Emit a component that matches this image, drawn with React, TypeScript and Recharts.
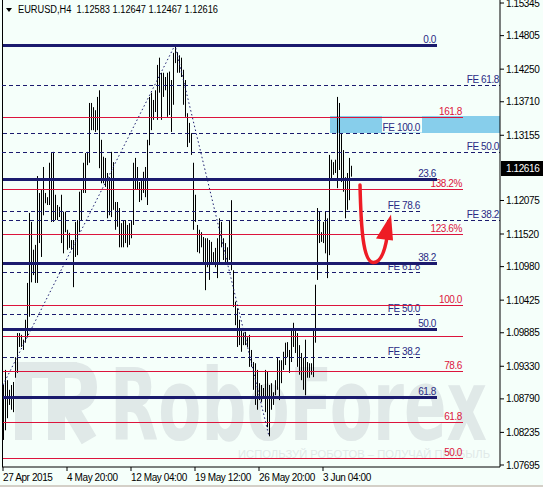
import React from "react";
import {
  Bar,
  ComposedChart,
  Line,
  ReferenceArea,
  ReferenceDot,
  ReferenceLine,
  XAxis,
  YAxis,
} from "recharts";

const BG = "#F5FFFA";
const NAVY = "#1b1b6e";
const NAVY_TEXT = "#2a2a84";
const CRIMSON = "#dc143c";
const MARK = "#e0e9e8";
const FONT = "'Liberation Sans', Arial, sans-serif";

// H4 bars, left to right (high / low)
const highs = [
  1.0902, 1.0927, 1.091, 1.0894, 1.0902, 1.0907, 1.0948, 1.0988, 1.0988, 1.0985,
  1.0977, 1.101, 1.1071, 1.1187, 1.1172, 1.1126, 1.1134, 1.1248, 1.122, 1.1225,
  1.1263, 1.122, 1.1213, 1.127, 1.1286, 1.1288, 1.1217, 1.12, 1.1197, 1.1217,
  1.1189, 1.1189, 1.1159, 1.1154, 1.1142, 1.1142, 1.1172, 1.1175, 1.1222, 1.1225,
  1.127, 1.1286, 1.1288, 1.1369, 1.1369, 1.1362, 1.1357, 1.1379, 1.139, 1.1308,
  1.128, 1.1278, 1.1253, 1.1246, 1.1288, 1.1271, 1.1205, 1.1205, 1.1195, 1.117,
  1.1175, 1.1175, 1.1167, 1.117, 1.1175, 1.127, 1.1278, 1.1263, 1.1238, 1.1241,
  1.1255, 1.1263, 1.1308, 1.1379, 1.1386, 1.1374, 1.139, 1.1432, 1.1444, 1.1419,
  1.1419, 1.1412, 1.1419, 1.1421, 1.1407, 1.1452, 1.1465, 1.1453, 1.1448, 1.1444,
  1.1424, 1.1407, 1.1352, 1.1336, 1.1319, 1.127, 1.1217, 1.1167, 1.1159, 1.1155,
  1.1147, 1.1145, 1.1145, 1.1142, 1.1139, 1.1122, 1.1129, 1.1145, 1.1178, 1.1172,
  1.1145, 1.1137, 1.113, 1.1175, 1.1208, 1.1092, 1.104, 1.1029, 1.101, 1.0996,
  1.0988, 1.099, 1.0981, 1.0985, 1.096, 1.094, 1.0938, 1.0927, 1.0905, 1.0902,
  1.0897, 1.0927, 1.0924, 1.0902, 1.0905, 1.089, 1.091, 1.0948, 1.0943, 1.0943,
  1.0957, 1.0972, 1.0973, 1.096, 1.0996, 1.1005, 1.0996, 1.0988, 1.0968, 1.0955,
  1.0947, 1.0977, 1.094, 1.0938, 1.0938, 1.0996, 1.1068, 1.1195, 1.1189, 1.1155,
  1.1172, 1.1189, 1.1178, 1.1283, 1.1275, 1.1271, 1.1275, 1.1379, 1.1369, 1.1319,
  1.1291, 1.1246, 1.1253, 1.1278, 1.1265,
];
const lows = [
  1.0811, 1.0827, 1.0847, 1.0869, 1.0861, 1.0857, 1.0914, 1.0922, 1.0965, 1.0965,
  1.096, 1.0972, 1.0981, 1.1015, 1.1072, 1.1084, 1.1071, 1.1071, 1.1137, 1.1114,
  1.1183, 1.1203, 1.12, 1.12, 1.1172, 1.1172, 1.1175, 1.1175, 1.118, 1.1137,
  1.112, 1.1155, 1.1126, 1.1129, 1.1126, 1.1064, 1.1114, 1.1117, 1.1155, 1.1175,
  1.122, 1.122, 1.1266, 1.127, 1.1324, 1.1324, 1.1321, 1.1324, 1.1261, 1.1236,
  1.1236, 1.123, 1.1178, 1.1183, 1.118, 1.1192, 1.1159, 1.1164, 1.113, 1.113,
  1.113, 1.1137, 1.113, 1.1134, 1.1145, 1.1167, 1.1225, 1.1225, 1.1205, 1.1208,
  1.122, 1.1213, 1.12, 1.1299, 1.1324, 1.1341, 1.1354, 1.1341, 1.1386, 1.1341,
  1.1379, 1.139, 1.1346, 1.1349, 1.1321, 1.1366, 1.1435, 1.1419, 1.1419, 1.1412,
  1.1366, 1.1346, 1.1296, 1.1303, 1.1283, 1.1159, 1.1172, 1.1122, 1.112, 1.113,
  1.1104, 1.1059, 1.1097, 1.1076, 1.1104, 1.1104, 1.1097, 1.1079, 1.1104, 1.113,
  1.1109, 1.1104, 1.1101, 1.1109, 1.1092, 1.1031, 1.1001, 1.0965, 1.0968, 1.0957,
  1.0968, 1.0968, 1.0965, 1.0932, 1.0932, 1.0894, 1.0869, 1.0861, 1.0877, 1.0874,
  1.088, 1.0857, 1.0832, 1.0817, 1.0861, 1.0869, 1.0885, 1.0894, 1.0877, 1.0905,
  1.0927, 1.0935, 1.0948, 1.0922, 1.094, 1.0965, 1.0955, 1.0932, 1.0919, 1.091,
  1.0894, 1.0885, 1.0914, 1.0914, 1.0919, 1.0915, 1.0972, 1.1076, 1.1137, 1.1139,
  1.1137, 1.112, 1.1079, 1.1117, 1.1241, 1.125, 1.1253, 1.1228, 1.1258, 1.1238,
  1.1222, 1.1178, 1.1192, 1.1208, 1.1247,
];
const SLOTS = 249;

const timeTicks = [0, 32, 64, 96, 128, 160];
const timeLabels = ["27 Apr 2015", "4 May 20:00", "12 May 04:00", "19 May 12:00", "26 May 20:00", "3 Jun 04:00"];
const priceTicks = [
  1.15345, 1.14805, 1.1425, 1.1371, 1.13155, 1.12075, 1.1152, 1.1098, 1.10425, 1.09885,
  1.0933, 1.0879, 1.08235, 1.07695,
];

// fibo retracement levels (thick navy)
const retLabels = ["0.0", "23.6", "38.2", "50.0", "61.8"];
const retValues = [1.1465, 1.12431, 1.1104, 1.09947, 1.08821];
// fibo expansion levels (crimson)
const expLabels = ["161.8", "138.2%", "123.6%", "100.0", "", "78.6", "61.8", "50.0"];
const expValues = [1.13458, 1.12265, 1.1152, 1.10344, 1.09831, 1.09251, 1.08407, 1.07811];
// FE dashed levels, full width
const feLongLabels = ["FE 61.8", "FE 50.0", "FE 38.2"];
const feLongValues = [1.13987, 1.12878, 1.11752];
// FE dashed levels, short
const feShortLabels = ["FE 100.0", "FE 78.6", "FE 61.8", "FE 50.0", "FE 38.2"];
const feShortValues = [1.13193, 1.11901, 1.10891, 1.10195, 1.09483];

const zigIdx = [0, 86, 133];
const zigValues = [1.0902, 1.1465, 1.0817];

const zoneLow = 1.13193;
const zoneHigh = 1.13474;
const zoneStart = 164;
const lastPrice = 1.12616;
const title = "EURUSD,H4  1.12583 1.12647 1.12467 1.12616";

const data = Array.from({ length: SLOTS }, (_, i) => ({
  i,
  range: i < highs.length ? [lows[i], highs[i]] : null,
  zig: zigIdx.includes(i) ? zigValues[zigIdx.indexOf(i)] : null,
}));

const txt = { fontFamily: FONT, fontSize: 10, letterSpacing: -0.4 } as const;

const BarStick = (p: any) => {
  if (p.height == null || isNaN(p.height) || isNaN(p.y)) return null;
  const cx = Math.floor(p.x + p.width / 2 + 0.01) + 0.5;
  const y1 = Math.min(p.y, p.y + p.height);
  const y2 = Math.max(p.y, p.y + p.height);
  return <line x1={cx} x2={cx} y1={y1} y2={Math.max(y2, y1 + 1)} stroke="#000" strokeWidth={1} />;
};

function levelShape(text: string, color: string, textColor: string, width: number, dash?: string, bg?: boolean) {
  return (p: any) => {
    const y = Math.round(p.y1) + (width % 2 ? 0.5 : 0);
    const left = Math.min(p.x1, p.x2);
    const right = Math.max(p.x1, p.x2);
    return (
      <g>
        {bg ? <rect x={right - 39} y={y - 17} width={40} height={16} fill={BG} /> : null}
        <line x1={left} x2={right} y1={y} y2={y} stroke={color} strokeWidth={width} strokeDasharray={dash} />
        {text ? (
          <text x={right - 1} y={y - 2.5} textAnchor="end" fill={textColor} style={txt}>
            {text}
          </text>
        ) : null}
      </g>
    );
  };
}

const PriceTag = (p: any) => {
  const right = Math.max(p.x1, p.x2);
  const y = Math.round(p.y1);
  return (
    <g>
      <rect x={right + 1} y={y - 7} width={43} height={15} fill="#000" />
      <text x={right + 6} y={y + 4} fill="#fff" style={txt}>
        {lastPrice.toFixed(5)}
      </text>
    </g>
  );
};

const ArrowMark = (p: any) => (
  <g transform={`translate(${p.cx},${p.cy})`}>
    <path d="M -1 -2.5 C 0 40, 2 74, 12 75 C 20 75.5, 24 62, 26 50" fill="none" stroke="#ee1c25" strokeWidth={3.5} strokeLinecap="round" />
    <polygon points="30,27 15,51 32,53" fill="#ee1c25" />
  </g>
);

const TimeTick = (p: any) => {
  const idx = timeTicks.indexOf(p.payload.value);
  return (
    <text x={p.x} y={p.y + 8} fill="#000" style={txt}>
      {timeLabels[idx]}
    </text>
  );
};

const PriceTick = (p: any) => (
  <text x={p.x} y={p.y + 3.5} fill="#000" style={txt}>
    {Number(p.payload.value).toFixed(5)}
  </text>
);

export default function App() {
  return (
    <div style={{ position: "fixed", left: 0, top: 0, width: 543, height: 487, background: BG }}>
      <svg width={543} height={487} style={{ position: "absolute", left: 0, top: 0 }}>
        <rect x={0} y={0} width={543} height={487} fill={BG} />
        {/* RoboForex watermark */}
        <g fill={MARK} stroke="none">
          <rect x={15} y={362} width={17} height={78} />
          <rect x={15} y={362} width={62} height={16} />
          <rect x={48} y={378} width={17} height={62} />
          <path d="M 72 370 Q 89 370 89 387 Q 89 404 72 404 L 62 404" fill="none" stroke={MARK} strokeWidth={16} />
          <path d="M 70 408 L 89 440" fill="none" stroke={MARK} strokeWidth={17} />
          <text x={110} y={440} fontFamily="'DejaVu Sans', sans-serif" fontWeight="bold" fontSize={99} textLength={377} lengthAdjust="spacingAndGlyphs">
            RoboForex
          </text>
          <text x={238} y={458} fontFamily={FONT} fontSize={11} textLength={252} lengthAdjust="spacingAndGlyphs">
            ИСПОЛЬЗУЙ РОБОТОВ – ПОЛУЧАЙ ПРИБЫЛЬ
          </text>
        </g>
        <polygon points="6,8 12,8 9,12" fill="#000" />
        <text x={18} y={13} fill="#000" style={{ fontFamily: FONT, fontSize: 10 }} textLength={200} lengthAdjust="spacingAndGlyphs" xmlSpace="preserve">
          {title}
        </text>
        <line x1={2.5} x2={2.5} y1={0} y2={467} stroke="#000" />
        <rect x={0} y={485} width={543} height={2} fill="#d4d0c8" />
      </svg>
      <ComposedChart
        width={543}
        height={487}
        data={data}
        margin={{ top: 0, right: 0, bottom: 0, left: 2 }}
        style={{ position: "absolute", left: 0, top: 0 }}
      >
        <XAxis
          dataKey="i"
          type="category"
          ticks={timeTicks}
          interval={0}
          height={20}
          tickSize={4}
          tickMargin={2}
          axisLine={{ stroke: "#000" }}
          tickLine={{ stroke: "#000" }}
          tick={<TimeTick />}
        />
        <YAxis
          orientation="right"
          type="number"
          domain={[1.07662, 1.15395]}
          allowDataOverflow
          ticks={priceTicks}
          interval={0}
          width={43}
          tickSize={4}
          tickMargin={2}
          axisLine={{ stroke: "#000" }}
          tickLine={{ stroke: "#000" }}
          tick={<PriceTick />}
        />
        <ReferenceArea x1={zoneStart} y1={zoneLow} y2={zoneHigh} fill="#87CEEB" fillOpacity={1} stroke="none" />
        {feLongValues.map((v, n) => (
          <ReferenceLine key={"fl" + n} y={v} shape={levelShape(feLongLabels[n], NAVY, NAVY_TEXT, 1, "4 3")} />
        ))}
        {feShortValues.map((v, n) => (
          <ReferenceLine
            key={"fs" + n}
            segment={[{ x: 0, y: v }, { x: 209, y: v }]}
            shape={levelShape(feShortLabels[n], NAVY, NAVY_TEXT, 1, "4 3", n === 0)}
          />
        ))}
        {expValues.map((v, n) => (
          <ReferenceLine
            key={"ex" + n}
            segment={[{ x: 0, y: v }, { x: 230, y: v }]}
            shape={levelShape(expLabels[n], CRIMSON, CRIMSON, 1)}
          />
        ))}
        {retValues.map((v, n) => (
          <ReferenceLine
            key={"rt" + n}
            segment={[{ x: 0, y: v }, { x: 217, y: v }]}
            shape={levelShape(retLabels[n], NAVY, NAVY_TEXT, 3)}
          />
        ))}
        <Line
          dataKey="zig"
          connectNulls
          dot={false}
          stroke={NAVY}
          strokeWidth={1}
          strokeDasharray="1.5 2.5"
          isAnimationActive={false}
        />
        <Bar dataKey="range" barSize={1} shape={BarStick} isAnimationActive={false} />
        <ReferenceDot x={179} y={1.1229} shape={ArrowMark} />
        <ReferenceLine y={lastPrice} shape={PriceTag} />
      </ComposedChart>
    </div>
  );
}
